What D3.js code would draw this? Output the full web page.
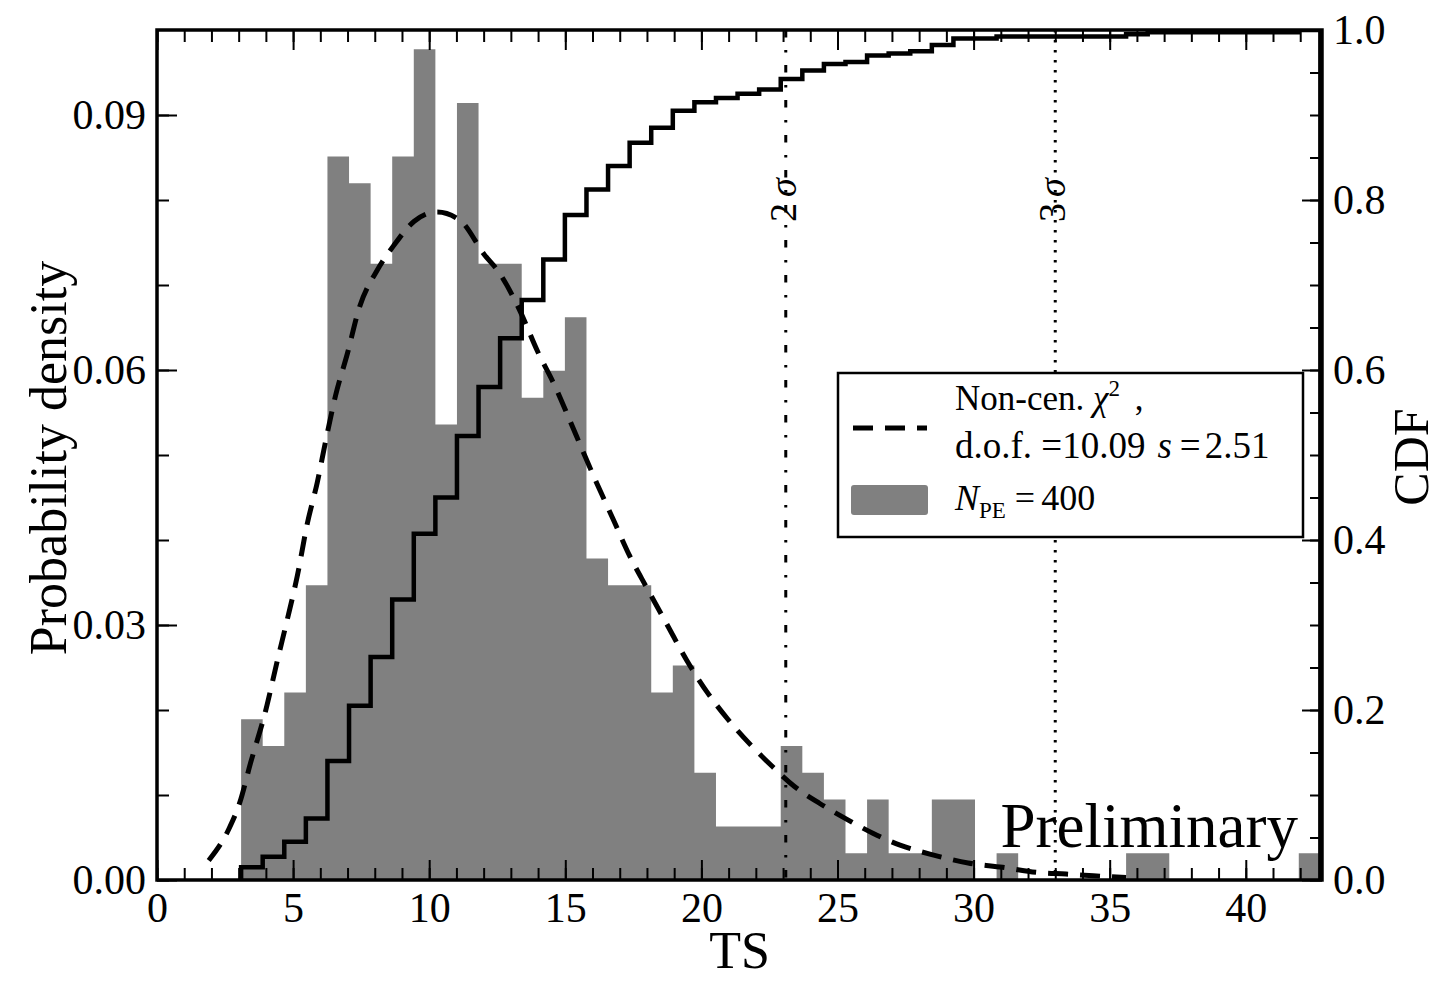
<!DOCTYPE html>
<html>
<head>
<meta charset="utf-8">
<script src="https://cdnjs.cloudflare.com/ajax/libs/d3/7.8.5/d3.min.js"></script>
<style>
body { margin: 0; background: #fff; }
svg text { font-family: "Liberation Serif", "Times New Roman", serif; fill: #000; }
</style>
</head>
<body>
<svg id="chart" width="1441" height="981"></svg>
<script>
// histogram of TS over the pseudo-experiments (counts per bin)
var nPE = 400;
var binStart = 3.09;
var binWidth = 0.793;
var binCounts = [6, 5, 7, 11, 27, 26, 23, 27, 31, 17,
                 29, 23, 23, 18, 19, 21, 12, 11, 11, 7,
                 8, 4, 2, 2, 2, 5, 4, 3, 1, 3,
                 1, 1, 3, 3, 0, 1, 0, 0, 0, 0,
                 0, 1, 1, 0, 0, 0, 0, 0, 0, 1];

// fitted non-central chi2
var fitTS  = [1.90, 2.64, 3.04, 3.44, 3.99, 4.42, 4.79, 5.15, 5.52, 5.89,
              6.20, 6.56, 7.00, 7.42, 8.10, 8.71, 9.45, 10.30, 11.17, 12.02,
              12.56, 13.30, 13.98, 14.65, 15.15, 15.64, 16.14, 16.75, 17.37, 17.99,
              18.73, 19.47, 20.21, 20.95, 21.81, 22.56, 23.42, 24.35, 25.20, 26.30,
              27.30, 28.57, 29.80, 31.06, 32.30, 33.40, 34.40, 35.60];
var fitPDF = [0.0023, 0.0060, 0.0091, 0.0138, 0.0199, 0.0258, 0.0307, 0.0357, 0.0419, 0.0468,
              0.0517, 0.0570, 0.0620, 0.0672, 0.0718, 0.0747, 0.0775, 0.0786, 0.0775, 0.0736,
              0.0715, 0.0672, 0.0622, 0.0579, 0.0542, 0.0505, 0.0468, 0.0425, 0.0381, 0.0344,
              0.0301, 0.0258, 0.0221, 0.0190, 0.0159, 0.0135, 0.0110, 0.0090, 0.0074, 0.0055,
              0.0041, 0.0029, 0.0020, 0.0015, 0.0009, 0.0007, 0.0005, 0.0003];

// significance thresholds
var sigmaTS = [23.1, 33.0];
var sigmaNames = ['2', '3'];
var sigmaDash = ['7.5,12.5,2.5,12.5', '2.5,7.5'];

var xTicks = [0, 5, 10, 15, 20, 25, 30, 35, 40];
var densityTicks = [0, 0.03, 0.06, 0.09];
var cdfTicks = [0, 0.2, 0.4, 0.6, 0.8, 1.0];

var W = 1441, H = 981;
var margin = {top: 30, right: 119, bottom: 101, left: 157};
var plotW = W - margin.left - margin.right;
var plotH = H - margin.top - margin.bottom;

var x = d3.scaleLinear().domain([0, 42.8]).range([0, plotW]);
var yL = d3.scaleLinear().domain([0, 0.1]).range([plotH, 0]);
var yR = d3.scaleLinear().domain([0, 1]).range([plotH, 0]);

var svg = d3.select('#chart');
var g = svg.append('g')
    .attr('transform', 'translate(' + margin.left + ',' + margin.top + ')');

g.append('clipPath').attr('id', 'plotclip')
    .append('rect').attr('width', plotW).attr('height', plotH);

var plot = g.append('g').attr('clip-path', 'url(#plotclip)');

//histogram
var bins = binCounts.map(function(c, i){
    return {x0: binStart + i * binWidth, density: c / (nPE * binWidth)};
});
var binEnd = binStart + binCounts.length * binWidth;

var histArea = d3.area()
    .curve(d3.curveStepAfter)
    .x(function(d){ return x(d.x0); })
    .y0(yL(0))
    .y1(function(d){ return yL(d.density); });

plot.append('path')
    .datum(bins.concat([{x0: binEnd, density: bins[bins.length - 1].density}]))
    .attr('d', histArea)
    .attr('fill', '#808080');

//sigma lines
plot.selectAll('line.sigma')
    .data(sigmaTS)
    .enter()
    .append('line')
    .attr('class', 'sigma')
    .attr('x1', function(d){ return x(d); })
    .attr('x2', function(d){ return x(d); })
    .attr('y1', 0)
    .attr('y2', plotH)
    .attr('stroke', '#000')
    .attr('stroke-width', 3)
    .attr('stroke-dasharray', function(d, i){ return sigmaDash[i]; });

//cumulative step line
var cum = d3.cumsum(binCounts);
var cdfPts = [{x: binStart, v: 0}];
cum.forEach(function(c, i){
    cdfPts.push({x: binStart + i * binWidth, v: c / nPE});
});
cdfPts.push({x: binEnd, v: cum[cum.length - 1] / nPE});
cdfPts.push({x: binEnd, v: 0});

var cdfLine = d3.line()
    .curve(d3.curveStepAfter)
    .x(function(d){ return x(d.x); })
    .y(function(d){ return yR(d.v); });

plot.append('path')
    .datum(cdfPts)
    .attr('d', cdfLine)
    .attr('fill', 'none')
    .attr('stroke', '#000')
    .attr('stroke-width', 4.5)
    .attr('stroke-linejoin', 'miter');

//fit curve
var fitLine = d3.line()
    .curve(d3.curveMonotoneX)
    .x(function(d){ return x(d[0]); })
    .y(function(d){ return yL(d[1]); });

plot.append('path')
    .datum(d3.zip(fitTS, fitPDF))
    .attr('d', fitLine)
    .attr('fill', 'none')
    .attr('stroke', '#000')
    .attr('stroke-width', 5)
    .attr('stroke-dasharray', '20,12');

//sigma labels
var sigmaText = g.selectAll('text.sigma')
    .data(sigmaTS)
    .enter()
    .append('text')
    .attr('class', 'sigma')
    .attr('transform', function(d){ return 'translate(' + (x(d) + 10) + ',170) rotate(-90)'; })
    .attr('text-anchor', 'middle')
    .style('font-size', '38px');
sigmaText.append('tspan').text(function(d, i){ return sigmaNames[i]; });
sigmaText.append('tspan').attr('dx', 6).style('font-style', 'italic').text('σ');

//axes
function styleAxis(sel){
    sel.select('.domain').remove();
    sel.selectAll('line').attr('stroke', '#000').attr('stroke-width', 2);
    sel.selectAll('text').style('font-size', '42px').attr('fill', '#000');
}

g.append('g')
    .attr('transform', 'translate(0,' + plotH + ')')
    .call(d3.axisBottom(x).tickValues(d3.range(0, 43, 1)).tickSize(-12).tickFormat(''))
    .call(styleAxis);
g.append('g')
    .attr('transform', 'translate(0,' + plotH + ')')
    .call(d3.axisBottom(x).tickValues(xTicks).tickSize(-20).tickPadding(12).tickFormat(d3.format('d')))
    .call(styleAxis);

g.append('g')
    .call(d3.axisTop(x).tickValues(d3.range(0, 43, 1)).tickSize(-12).tickFormat(''))
    .call(styleAxis);
g.append('g')
    .call(d3.axisTop(x).tickValues(xTicks).tickSize(-20).tickFormat(''))
    .call(styleAxis);

g.append('g')
    .call(d3.axisLeft(yL).tickValues(d3.range(0, 0.1, 0.01)).tickSize(-12).tickFormat(''))
    .call(styleAxis);
g.append('g')
    .call(d3.axisLeft(yL).tickValues(densityTicks).tickSize(-20).tickPadding(11).tickFormat(d3.format('.2f')))
    .call(styleAxis);

g.append('g')
    .attr('transform', 'translate(' + plotW + ',0)')
    .call(d3.axisRight(yR).tickValues(d3.range(0, 1.0001, 0.05)).tickSize(-12).tickFormat(''))
    .call(styleAxis);
g.append('g')
    .attr('transform', 'translate(' + plotW + ',0)')
    .call(d3.axisRight(yR).tickValues(cdfTicks).tickSize(-20).tickPadding(11).tickFormat(d3.format('.1f')))
    .call(styleAxis);

//legend
var legend = g.append('g')
    .attr('transform', 'translate(' + (838 - margin.left) + ',' + (373 - margin.top) + ')');

legend.append('rect')
    .attr('width', 465)
    .attr('height', 164)
    .attr('fill', '#fff')
    .attr('stroke', '#000')
    .attr('stroke-width', 2.5);

legend.append('line')
    .attr('x1', 15).attr('x2', 89)
    .attr('y1', 55).attr('y2', 55)
    .attr('stroke', '#000')
    .attr('stroke-width', 5)
    .attr('stroke-dasharray', '20,12');

legend.append('rect')
    .attr('x', 13).attr('y', 112)
    .attr('width', 77).attr('height', 30)
    .attr('rx', 3)
    .attr('fill', '#808080');

var l1 = legend.append('text').attr('x', 117).attr('y', 37).style('font-size', '35px');
l1.append('tspan').text('Non-cen. ');
l1.append('tspan').style('font-style', 'italic').text('χ');
l1.append('tspan').attr('dy', -14).style('font-size', '23px').text('2');
l1.append('tspan').attr('dy', 14).attr('dx', 6).text(' ,');

var l2 = legend.append('text').attr('x', 117).attr('y', 85).style('font-size', '37px');
l2.append('tspan').text('d.o.f. =10.09');
l2.append('tspan').attr('dx', 12).style('font-style', 'italic').text('s');
l2.append('tspan').attr('dx', 8).text('=');
l2.append('tspan').attr('dx', 4).text('2.51');

var l3 = legend.append('text').attr('x', 117).attr('y', 137).style('font-size', '36px');
l3.append('tspan').style('font-style', 'italic').text('N');
l3.append('tspan').attr('dy', 8).style('font-size', '23px').text('PE');
l3.append('tspan').attr('dy', -8).attr('dx', 9).text('=');
l3.append('tspan').attr('dx', 6).text('400');

//preliminary tag
g.append('text')
    .attr('x', 1298 - margin.left)
    .attr('y', 847 - margin.top)
    .attr('text-anchor', 'end')
    .style('font-size', '63px')
    .text('Preliminary');

//frame
g.append('rect')
    .attr('width', plotW)
    .attr('height', plotH)
    .attr('fill', 'none')
    .attr('stroke', '#000')
    .attr('stroke-width', 3.5);

//axis labels
svg.append('text')
    .attr('x', margin.left + plotW / 2)
    .attr('y', 968)
    .attr('text-anchor', 'middle')
    .style('font-size', '52px')
    .text('TS');

svg.append('text')
    .attr('transform', 'translate(66,458) rotate(-90)')
    .attr('text-anchor', 'middle')
    .style('font-size', '52px')
    .text('Probability density');

svg.append('text')
    .attr('transform', 'translate(1428,457) rotate(-90)')
    .attr('text-anchor', 'middle')
    .style('font-size', '50px')
    .text('CDF');
</script>
</body>
</html>
